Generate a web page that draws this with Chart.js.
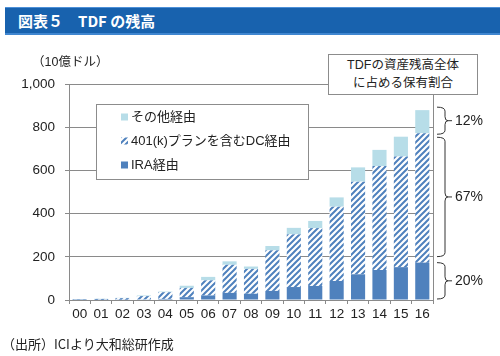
<!DOCTYPE html>
<html>
<head>
<meta charset="utf-8">
<script src="https://cdn.jsdelivr.net/npm/chart.js@4.4.1/dist/chart.umd.min.js"></script>
<style>
  html, body { margin: 0; padding: 0; background: #fff; }
  #wrap { position: relative; width: 500px; height: 356px; overflow: hidden; font-family: "Liberation Sans", "Noto Sans CJK JP", sans-serif; }
  #c { position: absolute; left: 0; top: 0; }
  #title { position: absolute; left: 5px; top: 7px; width: 495px; height: 28px; background: #1862ae;
    box-shadow: inset 0 1px 0 #4d90d8, inset 0 -2px 0 #3f86d0; color: #fff; font: bold 15px "Noto Sans CJK JP", sans-serif;
    line-height: 28px; padding-left: 13px; box-sizing: border-box; }
  #unit { position: absolute; left: 32px; top: 51px; font: 12.5px "Liberation Sans", "Noto Sans CJK JP", sans-serif; color: #222; }
  #note { position: absolute; left: 328px; top: 54px; width: 150px; height: 41px; box-sizing: border-box; border: 1px solid #8c8c8c;
    background: #fff; text-align: center; font: 12.5px "Liberation Sans", "Noto Sans CJK JP", sans-serif; line-height: 18px; color: #222; padding-top: 1px; }
  #src { position: absolute; left: 2px; top: 334px; font: 13px "Noto Sans CJK JP", sans-serif; color: #222; }
</style>
</head>
<body>
<div id="wrap">
  <canvas id="c" width="500" height="356"></canvas>
  <div id="title">図表５　TDF の残高</div>
  <div id="unit">（10億ドル）</div>
  <div id="note">TDFの資産残高全体<br>に占める保有割合</div>
  <div id="src">（出所）ICIより大和総研作成</div>
</div>
<script>
const years = ['00','01','02','03','04','05','06','07','08','09','10','11','12','13','14','15','16'];
const iraValues = [0.5, 1, 1.5, 3, 5, 13, 21, 33, 29, 42, 60, 65, 88, 119, 139, 152, 173];
const dcValues = [1.5, 4, 7, 15, 31, 43, 70, 130, 115, 188, 244, 268, 344, 429, 481, 512, 599];
const otherValues = [0.5, 1, 1.5, 3, 3, 10, 16, 16, 11, 20, 30, 33, 43, 66, 75, 92, 107];
const seriesLabels = ['IRA経由', '401(k)プランを含むDC経由', 'その他経由'];
const shareLabels = ['12%', '67%', '20%'];
const yTicks = [0, 200, 400, 600, 800, 1000];

const BLUE = '#4f81bd';
const LIGHT = '#b7dde8';

function makeHatch() {
  const c = document.createElement('canvas');
  c.width = 6; c.height = 6;
  const g = c.getContext('2d');
  g.fillStyle = '#fff';
  g.fillRect(0, 0, 6, 6);
  g.strokeStyle = BLUE;
  g.lineWidth = 2;
  g.beginPath();
  g.moveTo(-1, 7); g.lineTo(7, -1);
  g.moveTo(-4, 4); g.lineTo(4, -4);
  g.moveTo(2, 10); g.lineTo(10, 2);
  g.stroke();
  return g.createPattern(c, 'repeat');
}
const hatch = makeHatch();

const legendPlugin = {
  id: 'customLegend',
  afterDraw(chart) {
    const ctx = chart.ctx;
    ctx.save();
    ctx.fillStyle = '#fff';
    ctx.strokeStyle = '#8c8c8c';
    ctx.lineWidth = 1;
    ctx.fillRect(96.5, 104.5, 212, 75);
    ctx.strokeRect(96.5, 104.5, 212, 75);
    const order = [2, 1, 0];
    const rowsY = [117, 141, 165];
    ctx.font = '13px "Liberation Sans", "Noto Sans CJK JP", sans-serif';
    ctx.textBaseline = 'middle';
    ctx.textAlign = 'left';
    order.forEach((di, k) => {
      const ds = chart.data.datasets[di];
      const y = rowsY[k];
      ctx.fillStyle = ds.backgroundColor;
      ctx.fillRect(121, y - 3.5, 7, 7);
      ctx.fillStyle = '#222';
      ctx.fillText(ds.label, 131, y + 0.5);
    });
    ctx.restore();
  }
};

const bracketPlugin = {
  id: 'brackets',
  afterDraw(chart) {
    const ctx = chart.ctx;
    const ys = chart.scales.y;
    const area = chart.chartArea;
    const last = years.length - 1;
    const ira = iraValues[last];
    const dcTop = ira + dcValues[last];
    const total = dcTop + otherValues[last];
    ctx.save();
    ctx.strokeStyle = '#8a8a8a';
    ctx.lineWidth = 1;
    ctx.beginPath();
    ctx.moveTo(Math.round(area.right) + 0.5, area.top);
    ctx.lineTo(Math.round(area.right) + 0.5, area.bottom);
    ctx.stroke();

    const ranges = [
      [ys.getPixelForValue(total) - 3, ys.getPixelForValue(dcTop) + 1],
      [ys.getPixelForValue(dcTop) + 4, ys.getPixelForValue(ira) - 6],
      [ys.getPixelForValue(ira), ys.getPixelForValue(0) - 1]
    ];
    const x0 = area.right + 4;
    const xv = area.right + 12;
    ctx.strokeStyle = '#333';
    ctx.lineWidth = 1;
    ctx.font = '14px "Liberation Sans", sans-serif';
    ctx.fillStyle = '#222';
    ctx.textBaseline = 'middle';
    ctx.textAlign = 'left';
    ranges.forEach((r, i) => {
      const yT = r[0], yB = r[1];
      const yM = (yT + yB) / 2;
      const rr = Math.min(4, (yB - yT) / 4);
      ctx.beginPath();
      ctx.moveTo(x0, yT);
      ctx.quadraticCurveTo(xv, yT, xv, yT + rr);
      ctx.lineTo(xv, yM - rr);
      ctx.quadraticCurveTo(xv, yM, xv + 3, yM);
      ctx.quadraticCurveTo(xv, yM, xv, yM + rr);
      ctx.lineTo(xv, yB - rr);
      ctx.quadraticCurveTo(xv, yB, x0, yB);
      ctx.moveTo(xv + 3, yM);
      ctx.lineTo(xv + 7, yM);
      ctx.stroke();
      ctx.fillText(shareLabels[i], area.right + 22, yM + 0.5);
    });
    ctx.restore();
  }
};

const tickFont = { family: '"Liberation Sans", "Noto Sans CJK JP", sans-serif', size: 13.5 };

new Chart(document.getElementById('c'), {
  type: 'bar',
  data: {
    labels: years,
    datasets: [
      { label: seriesLabels[0], data: iraValues, backgroundColor: BLUE },
      { label: seriesLabels[1], data: dcValues, backgroundColor: hatch },
      { label: seriesLabels[2], data: otherValues, backgroundColor: LIGHT }
    ]
  },
  options: {
    responsive: false,
    animation: false,
    devicePixelRatio: 1,
    layout: { padding: { left: 0, top: 84, right: 67, bottom: 0 } },
    datasets: { bar: { barPercentage: 0.66, categoryPercentage: 1.0, borderWidth: 0 } },
    plugins: { legend: { display: false }, tooltip: { enabled: false }, title: { display: false } },
    scales: {
      x: {
        stacked: true,
        grid: { drawOnChartArea: false, drawTicks: true, tickLength: 4, color: '#8a8a8a', offset: true },
        border: { color: '#8a8a8a' },
        ticks: { color: '#222', font: tickFont, padding: 2, maxRotation: 0, autoSkip: false },
        afterFit(s) { s.height = 56; }
      },
      y: {
        stacked: true,
        min: 0, max: 1000,
        afterBuildTicks(s) { s.ticks = yTicks.map(v => ({ value: v })); },
        grid: { color: '#8a8a8a', tickLength: 4 },
        border: { color: '#8a8a8a' },
        ticks: { color: '#222', font: tickFont, padding: 10, callback: v => v.toLocaleString('en-US') },
        afterFit(s) { s.width = 69; }
      }
    }
  },
  plugins: [legendPlugin, bracketPlugin]
});
</script>
</body>
</html>
